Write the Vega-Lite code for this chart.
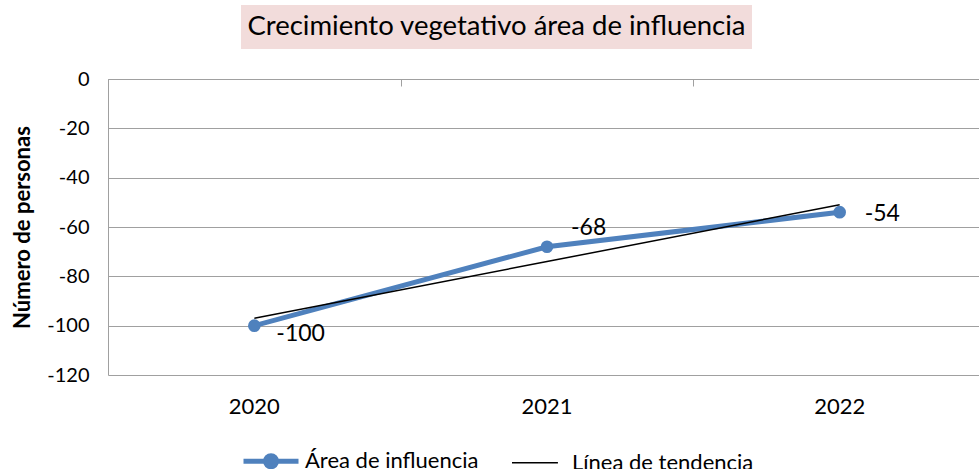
{
  "$schema": "https://vega.github.io/schema/vega-lite/v6.json",
  "background": "white",
  "padding": {"left": 11, "top": 5, "right": 0, "bottom": 0},
  "config": {
    "font": "Lato",
    "view": {"stroke": null},
    "concat": {"spacing": 20},
    "locale": {"number": {"decimal": ".", "thousands": ",", "grouping": [3], "currency": ["$", ""], "minus": "-"}}
  },
  "datasets": {
    "main": [
      {"year": "2020", "serie": "Área de influencia", "value": -100},
      {"year": "2021", "serie": "Área de influencia", "value": -68},
      {"year": "2022", "serie": "Área de influencia", "value": -54},
      {"year": "2020", "serie": "Línea de tendencia", "value": -97},
      {"year": "2021", "serie": "Línea de tendencia", "value": -74},
      {"year": "2022", "serie": "Línea de tendencia", "value": -51}
    ]
  },
  "vconcat": [
    {
      "spacing": 20,
      "hconcat": [
        {
          "width": 113,
          "height": 44,
          "data": {"values": [{"t": ""}]},
          "mark": {"type": "point", "opacity": 0}
        },
        {
          "width": 511,
          "height": 44,
          "view": {"fill": "#f2dcdb", "stroke": null},
          "data": {"values": [{"t": "Crecimiento vegetativo área de influencia"}]},
          "mark": {"type": "text", "font": "Lato", "fontSize": 27.5, "color": "black", "baseline": "middle", "align": "center"},
          "encoding": {"text": {"field": "t", "type": "nominal"}}
        }
      ]
    },
    {
      "width": 878,
      "height": 296,
      "data": {"name": "main"},
      "resolve": {"axis": {"x": "independent"}},
      "encoding": {
        "y": {"field": "value", "type": "quantitative",
              "scale": {"domain": [-120, 0], "nice": false, "zero": false},
              "axis": {"values": [0, -20, -40, -60, -80, -100, -120], "title": "Número de personas",
                       "titleFontSize": 22, "titleFontWeight": "bold", "titleColor": "black", "titlePadding": 12,
                       "labelFontSize": 20, "labelColor": "black", "labelPadding": 19, "ticks": false,
                       "domainColor": "#a0a0a0", "gridColor": "#a0a0a0", "grid": true}}
      },
      "layer": [
        {
          "mark": {"type": "line"},
          "encoding": {
            "x": {"field": "year", "type": "ordinal",
                  "scale": {"type": "band", "paddingInner": 0, "paddingOuter": 0},
                  "axis": {"orient": "bottom", "title": null, "domain": false, "ticks": false, "labelAngle": 0,
                           "labelFontSize": 22, "labelColor": "black", "labelPadding": 21, "grid": false}},
            "color": {"field": "serie", "type": "nominal",
                      "scale": {"domain": ["Área de influencia", "Línea de tendencia"], "range": ["#4f81bd", "#000000"]},
                      "legend": {"orient": "none", "legendX": 133, "legendY": 426, "direction": "horizontal", "title": null,
                                 "labelFontSize": 22, "labelColor": "black", "labelLimit": 0, "symbolSize": 3025, "labelOffset": 4,
                                 "columnPadding": 30, "symbolStrokeWidth": 5,
                                 "encode": {"symbols": {"update": {
                                   "shape": {"signal": "datum.value === 'Área de influencia' ? 'M-1,0H1M-0.2,0A0.2,0.2 0 1,0 0.2,0A0.2,0.2 0 1,0 -0.2,0' : 'M-1,0H0.67'"},
                                   "strokeWidth": {"signal": "datum.value === 'Área de influencia' ? 5 : 1.5"},
                                   "fill": {"signal": "datum.value === 'Área de influencia' ? '#4f81bd' : 'transparent'"}
                                 }}}}},
            "strokeWidth": {"field": "serie", "type": "nominal",
                            "scale": {"domain": ["Área de influencia", "Línea de tendencia"], "range": [5, 1.5]},
                            "legend": null}
          }
        },
        {
          "transform": [{"filter": "datum.serie === 'Área de influencia'"}],
          "mark": {"type": "point", "filled": true, "size": 160, "color": "#4f81bd", "opacity": 1},
          "encoding": {
            "x": {"field": "year", "type": "ordinal",
                  "axis": {"orient": "top", "title": null, "labels": false, "ticks": true, "tickBand": "extent",
                           "tickSize": -7, "tickColor": "#a0a0a0", "domain": true, "domainColor": "#a0a0a0", "grid": false}}
          }
        },
        {
          "transform": [{"filter": "datum.serie === 'Área de influencia' && datum.year === '2020'"}],
          "mark": {"type": "text", "align": "left", "baseline": "middle", "dx": 22, "dy": 8, "fontSize": 23, "color": "black"},
          "encoding": {
            "x": {"field": "year", "type": "ordinal", "axis": null},
            "text": {"field": "value", "type": "quantitative"}
          }
        },
        {
          "transform": [{"filter": "datum.serie === 'Área de influencia' && datum.year === '2021'"}],
          "mark": {"type": "text", "align": "left", "baseline": "middle", "dx": 24, "dy": -19, "fontSize": 23, "color": "black"},
          "encoding": {
            "x": {"field": "year", "type": "ordinal", "axis": null},
            "text": {"field": "value", "type": "quantitative"}
          }
        },
        {
          "transform": [{"filter": "datum.serie === 'Área de influencia' && datum.year === '2022'"}],
          "mark": {"type": "text", "align": "left", "baseline": "middle", "dx": 25, "dy": 2, "fontSize": 23, "color": "black"},
          "encoding": {
            "x": {"field": "year", "type": "ordinal", "axis": null},
            "text": {"field": "value", "type": "quantitative"}
          }
        }
      ]
    }
  ]
}
